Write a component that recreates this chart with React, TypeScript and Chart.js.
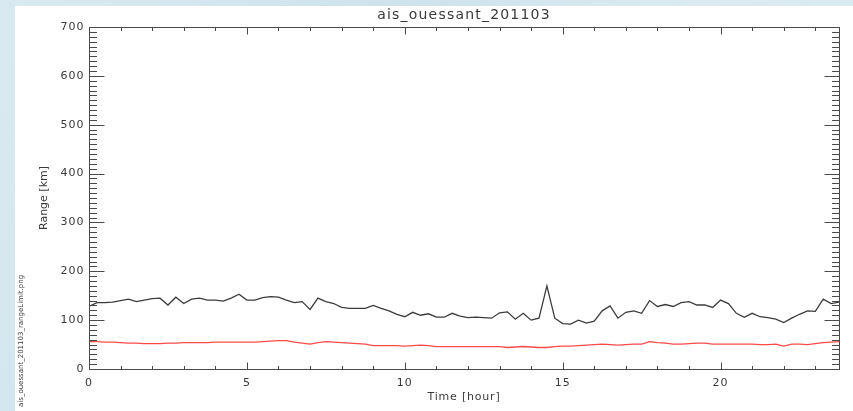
import React, { useEffect, useRef } from "react";
import { Chart, registerables } from "chart.js";

Chart.register(...registerables);

const titleText = "ais_ouessant_201103";
const fileText = "ais_ouessant_201103_rangeLimit.png";
const xTitle = "Time [hour]";
const yTitle = "Range [km]";

const hours: number[] = [
  0, 0.25, 0.5, 0.75, 1, 1.25, 1.5, 1.75, 2, 2.25, 2.5, 2.75,
  3, 3.25, 3.5, 3.75, 4, 4.25, 4.5, 4.75, 5, 5.25, 5.5, 5.75,
  6, 6.25, 6.5, 6.75, 7, 7.25, 7.5, 7.75, 8, 8.25, 8.5, 8.75,
  9, 9.25, 9.5, 9.75, 10, 10.25, 10.5, 10.75, 11, 11.25, 11.5, 11.75,
  12, 12.25, 12.5, 12.75, 13, 13.25, 13.5, 13.75, 14, 14.25, 14.5, 14.75,
  15, 15.25, 15.5, 15.75, 16, 16.25, 16.5, 16.75, 17, 17.25, 17.5, 17.75,
  18, 18.25, 18.5, 18.75, 19, 19.25, 19.5, 19.75, 20, 20.25, 20.5, 20.75,
  21, 21.25, 21.5, 21.75, 22, 22.25, 22.5, 22.75, 23, 23.25, 23.5, 23.75,
];

const rangeBlack: number[] = [
  128, 136, 136, 137, 140, 143, 138, 141, 144, 145,
  131, 147, 134, 143, 145, 141, 141, 139, 145, 153,
  141, 141, 146, 148, 147, 141, 136, 138, 122, 145,
  138, 134, 126, 124, 124, 124, 130, 124, 119, 112,
  107, 116, 110, 113, 106, 106, 114, 108, 105, 106,
  105, 104, 115, 117, 102, 114, 100, 104, 170, 104,
  93, 92, 100, 94, 98, 119, 129, 104, 116, 119,
  114, 140, 128, 132, 128, 136, 138, 131, 131, 126,
  141, 134, 114, 106, 114, 107, 105, 102, 95, 104,
  112, 119, 118, 143, 134, 137,
];

const rangeRed: number[] = [
  56, 56, 55, 55, 54, 53, 53, 52, 52, 52,
  53, 53, 54, 54, 54, 54, 55, 55, 55, 55,
  55, 55, 56, 57, 58, 58, 55, 53, 51, 54,
  56, 55, 54, 53, 52, 51, 48, 48, 48, 48,
  47, 48, 49, 48, 46, 46, 46, 46, 46, 46,
  46, 46, 46, 44, 45, 46, 45, 44, 44, 46,
  47, 47, 48, 49, 50, 51, 50, 49, 50, 51,
  51, 56, 54, 53, 51, 51, 52, 53, 53, 51,
  51, 51, 51, 51, 51, 50, 50, 51, 47, 51,
  51, 50, 52, 54, 55, 56,
];

const xMajorTicks: number[] = [0, 5, 10, 15, 20];
const yMajorTicks: number[] = [0, 100, 200, 300, 400, 500, 600, 700];
const xMin = 0;
const xMax = 23.75;
const yMin = 0;
const yMax = 700;

const TEXT = "#3a3a3a";
const AXIS = "#4a4a4a";

const idlPlugin = {
  id: "idlFrame",
  beforeDraw(chart: any) {
    const ctx = chart.ctx;
    const W = chart.width;
    const H = chart.height;
    ctx.save();
    const g = ctx.createLinearGradient(0, 0, W, H);
    g.addColorStop(0, "#d9e9f1");
    g.addColorStop(0.4, "#cfe3ed");
    g.addColorStop(0.7, "#dcebf2");
    g.addColorStop(1, "#d2e5ee");
    ctx.fillStyle = g;
    ctx.fillRect(0, 0, W, H);
    ctx.fillStyle = "#ffffff";
    ctx.fillRect(15, 6, W - 15, H - 6);
    ctx.restore();
  },
  afterDraw(chart: any) {
    const ctx = chart.ctx;
    const area = chart.chartArea;
    const xs = chart.scales.x;
    const ys = chart.scales.y;
    ctx.save();
    ctx.strokeStyle = AXIS;
    ctx.lineWidth = 1;
    const L = Math.round(area.left) + 0.5;
    const R = Math.round(area.right) + 0.5;
    const T = Math.round(area.top) + 0.5;
    const B = Math.round(area.bottom) + 0.5;
    ctx.strokeRect(L, T, R - L, B - T);

    const xMajLen = 7;
    const xMinLen = 3.5;
    const yMajLen = 15;
    const yMinLen = 7.5;
    ctx.beginPath();
    for (let v = Math.ceil(xMin); v <= xMax; v += 1) {
      const px = Math.round(xs.getPixelForValue(v)) + 0.5;
      const len = xMajorTicks.includes(v) ? xMajLen : xMinLen;
      ctx.moveTo(px, B);
      ctx.lineTo(px, B - len);
      ctx.moveTo(px, T);
      ctx.lineTo(px, T + len);
    }
    for (let v = yMin; v <= yMax; v += 10) {
      const py = Math.round(ys.getPixelForValue(v)) + 0.5;
      const len = yMajorTicks.includes(v) ? yMajLen : yMinLen;
      ctx.moveTo(L, py);
      ctx.lineTo(L + len, py);
      ctx.moveTo(R, py);
      ctx.lineTo(R - len, py);
    }
    ctx.stroke();

    ctx.fillStyle = TEXT;
    (ctx as any).letterSpacing = "1px";
    ctx.font = "11px 'DejaVu Sans'";
    ctx.textAlign = "center";
    ctx.textBaseline = "middle";
    xMajorTicks.forEach((v) => {
      ctx.fillText(String(v), xs.getPixelForValue(v), 383);
    });
    ctx.textAlign = "right";
    yMajorTicks.forEach((v) => {
      ctx.fillText(String(v), L - 5, ys.getPixelForValue(v));
    });

    (ctx as any).letterSpacing = "0.8px";
    ctx.textAlign = "center";
    ctx.fillText(xTitle, (area.left + area.right) / 2, 397);

    ctx.save();
    (ctx as any).letterSpacing = "0px";
    ctx.translate(44, (area.top + area.bottom) / 2);
    ctx.rotate(-Math.PI / 2);
    ctx.fillText(yTitle, 0, 0);
    ctx.restore();

    (ctx as any).letterSpacing = "1.2px";
    ctx.font = "14px 'DejaVu Sans'";
    ctx.fillText(titleText, (area.left + area.right) / 2, 15);

    ctx.save();
    (ctx as any).letterSpacing = "0px";
    ctx.font = "7px 'DejaVu Sans'";
    ctx.textAlign = "left";
    ctx.translate(21, 407);
    ctx.rotate(-Math.PI / 2);
    ctx.fillText(fileText, 0, 0);
    ctx.restore();

    ctx.restore();
  },
};

export default function App() {
  const ref = useRef<HTMLCanvasElement | null>(null);
  useEffect(() => {
    if (!ref.current) return;
    const chart = new Chart(ref.current, {
      type: "line",
      data: {
        datasets: [
          {
            label: "range",
            data: hours.map((h, i) => ({ x: h, y: rangeBlack[i] })),
            borderColor: "#3c3c3c",
            borderWidth: 1.3,
            pointRadius: 0,
            tension: 0,
          },
          {
            label: "range limit",
            data: hours.map((h, i) => ({ x: h, y: rangeRed[i] })),
            borderColor: "#ff4a4a",
            borderWidth: 1.3,
            pointRadius: 0,
            tension: 0,
          },
        ],
      },
      options: {
        animation: false,
        responsive: false,
        devicePixelRatio: 1,
        layout: { padding: { left: 89, right: 14, top: 27, bottom: 42 } },
        plugins: {
          legend: { display: false },
          tooltip: { enabled: false },
          title: { display: false },
        },
        scales: {
          x: { type: "linear", min: xMin, max: xMax, display: false },
          y: { type: "linear", min: yMin, max: yMax, display: false },
        },
      },
      plugins: [idlPlugin],
    });
    return () => chart.destroy();
  }, []);
  return (
    <div style={{ position: "fixed", left: 0, top: 0, width: 853, height: 411 }}>
      <canvas ref={ref} width={853} height={411} style={{ display: "block" }} />
    </div>
  );
}
